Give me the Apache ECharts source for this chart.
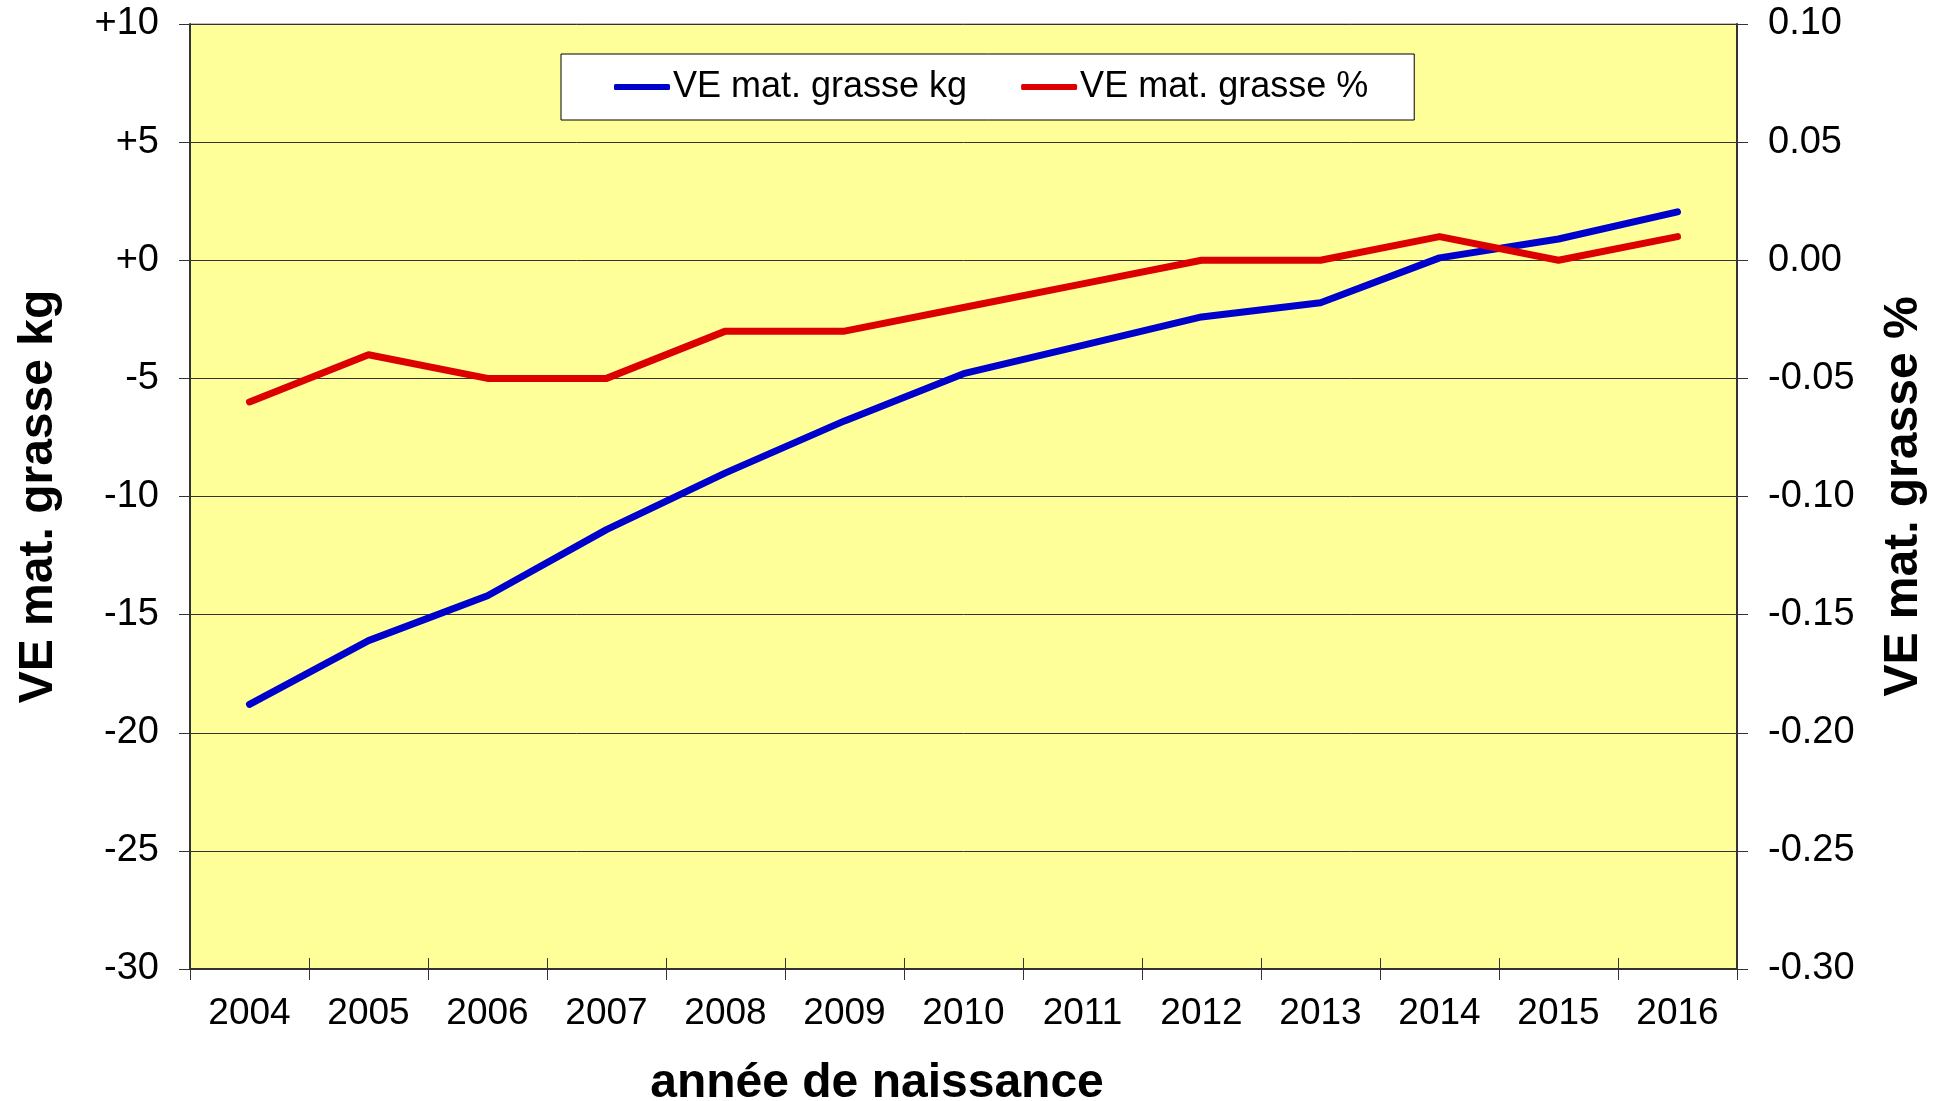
<!DOCTYPE html>
<html>
<head>
<meta charset="utf-8">
<script src="https://cdn.jsdelivr.net/npm/echarts@6/dist/echarts.min.js"></script>
<style>
html,body{margin:0;padding:0;background:#fff;}
#c{width:1950px;height:1101px;}
</style>
</head>
<body>
<div id="c"></div>
<script>
const years = ['2004','2005','2006','2007','2008','2009','2010','2011','2012','2013','2014','2015','2016'];
const veKg = [-18.8, -16.1, -14.2, -11.4, -9.0, -6.8, -4.8, -3.6, -2.4, -1.8, 0.1, 0.9, 2.05];
const vePct = [-0.06, -0.04, -0.05, -0.05, -0.03, -0.03, -0.02, -0.01, 0.00, 0.00, 0.01, 0.00, 0.01];
const nameKg = 'VE mat. grasse kg';
const namePct = 'VE mat. grasse %';
const xTitle = 'année de naissance';

const FONT = "'Liberation Sans', Arial, sans-serif";
const chart = echarts.init(document.getElementById('c'));
const leftY = {min: -30, max: 10, interval: 5};
const rightY = {min: -0.30, max: 0.10, interval: 0.05};

chart.setOption({
  animation: false,
  backgroundColor: '#ffffff',
  textStyle: {fontFamily: FONT, color: '#000'},
  title: {
    text: xTitle,
    left: 872,
    textAlign: 'center',
    top: 1055,
    textStyle: {fontFamily: FONT, fontSize: 48, fontWeight: 'bold', color: '#000'}
  },
  grid: {
    left: 190, right: 1950 - 1737, top: 24, bottom: 1101 - 969,
    show: true, backgroundColor: '#FFFF99', borderColor: '#808080', borderWidth: 1
  },
  legend: {
    left: 561, top: 54,
    backgroundColor: '#ffffff', borderColor: '#000', borderWidth: 1,
    padding: [15, 46, 15, 53],
    itemWidth: 56, itemHeight: 6, itemGap: 54,
    icon: 'roundRect',
    textStyle: {fontFamily: FONT, fontSize: 36, color: '#000', padding: [0, 0, 0, -2]},
    data: [nameKg, namePct]
  },
  xAxis: [{
    type: 'category', data: years, boundaryGap: true,
    axisLine: {onZero: false, lineStyle: {color: '#333', width: 2}},
    axisTick: {show: true, length: 11, lineStyle: {color: '#333', width: 1}},
    axisLabel: {fontFamily: FONT, fontSize: 37, color: '#000', margin: 26},
    splitLine: {show: false}
  }, {
    type: 'category', data: years, boundaryGap: true, position: 'bottom',
    axisLine: {show: false, onZero: false},
    axisTick: {show: true, inside: true, length: 11, lineStyle: {color: '#333', width: 1}},
    axisLabel: {show: false}, splitLine: {show: false}
  }],
  yAxis: [{
    type: 'value', position: 'left', min: leftY.min, max: leftY.max, interval: leftY.interval,
    name: nameKg, nameLocation: 'middle', nameRotate: 90, nameGap: 127,
    nameTextStyle: {fontFamily: FONT, fontSize: 48, fontWeight: 'bold', color: '#000'},
    axisLine: {show: true, onZero: false, lineStyle: {color: '#333', width: 2}},
    axisTick: {show: true, length: 11, lineStyle: {color: '#333', width: 1}},
    axisLabel: {fontFamily: FONT, fontSize: 38, color: '#000', margin: 31,
      formatter: v => (v >= 0 ? '+' + v : String(v))},
    splitLine: {show: true, lineStyle: {color: '#333', width: 1}}
  }, {
    type: 'value', position: 'right', min: rightY.min, max: rightY.max, interval: rightY.interval,
    name: namePct, nameLocation: 'middle', nameRotate: 90, nameGap: 143,
    nameTextStyle: {fontFamily: FONT, fontSize: 48, fontWeight: 'bold', color: '#000'},
    axisLine: {show: true, onZero: false, lineStyle: {color: '#333', width: 2}},
    axisTick: {show: true, length: 11, lineStyle: {color: '#333', width: 1}},
    axisLabel: {fontFamily: FONT, fontSize: 38, color: '#000', margin: 31,
      formatter: v => v.toFixed(2)},
    splitLine: {show: false}
  }, {
    type: 'value', position: 'left', min: leftY.min, max: leftY.max, interval: leftY.interval,
    axisLine: {show: false, onZero: false},
    axisTick: {show: true, inside: true, length: 11, lineStyle: {color: '#333', width: 1}},
    axisLabel: {show: false}, splitLine: {show: false}
  }, {
    type: 'value', position: 'right', min: rightY.min, max: rightY.max, interval: rightY.interval,
    axisLine: {show: false, onZero: false},
    axisTick: {show: true, inside: true, length: 11, lineStyle: {color: '#333', width: 1}},
    axisLabel: {show: false}, splitLine: {show: false}
  }],
  series: [{
    name: nameKg, type: 'line', data: veKg, xAxisIndex: 0, yAxisIndex: 0,
    showSymbol: false, symbol: 'none',
    itemStyle: {color: '#0000CC'},
    lineStyle: {color: '#0000CC', width: 7, cap: 'round', join: 'round'}
  }, {
    name: namePct, type: 'line', data: vePct, xAxisIndex: 0, yAxisIndex: 1,
    showSymbol: false, symbol: 'none',
    itemStyle: {color: '#DD0000'},
    lineStyle: {color: '#DD0000', width: 7, cap: 'round', join: 'round'}
  }]
});
</script>
</body>
</html>
